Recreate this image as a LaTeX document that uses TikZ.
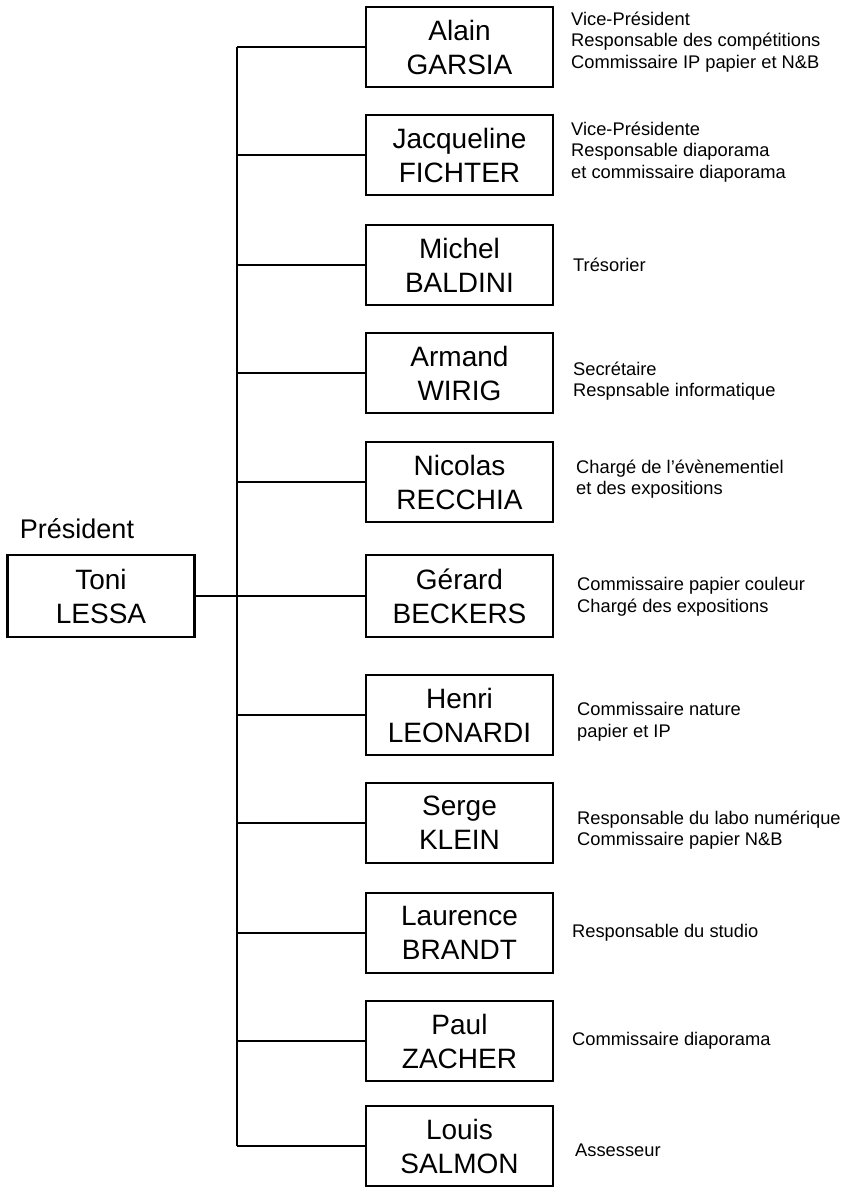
\documentclass[tikz,border=0pt]{standalone}
\usepackage{fontspec}
\setmainfont{Liberation Sans}
\begin{document}
\begin{tikzpicture}[x=1pt,y=-1pt,
  person/.style={draw, line width=2.2pt, minimum width=187pt, minimum height=80pt, inner sep=0pt, align=center, font=\fontsize{28}{34}\selectfont},
  role/.style={anchor=west, align=left, inner sep=0pt, font=\fontsize{18.3}{21.5}\selectfont},
  link/.style={line width=1.4pt}]
\useasboundingbox (0,0) rectangle (845,1187);

% president
\node[person, minimum height=82pt] (pres) at (101,596) {Toni\\LESSA};
\node[anchor=base, inner sep=0pt, font=\fontsize{27}{32}\selectfont] (preslabel) at (77,538) {Président};

% members
\node[person] (a) at (459.5,47) {Alain\\GARSIA};
\node[person] (b) at (459.5,155) {Jacqueline\\FICHTER};
\node[person] (c) at (459.5,265) {Michel\\BALDINI};
\node[person] (d) at (459.5,373) {Armand\\WIRIG};
\node[person] (e) at (459.5,482) {Nicolas\\RECCHIA};
\node[person, minimum height=82pt] (f) at (459.5,596) {Gérard\\BECKERS};
\node[person] (g) at (459.5,715) {Henri\\LEONARDI};
\node[person] (h) at (459.5,823) {Serge\\KLEIN};
\node[person] (i) at (459.5,933) {Laurence\\BRANDT};
\node[person] (j) at (459.5,1041) {Paul\\ZACHER};
\node[person] (k) at (459.5,1146) {Louis\\SALMON};

% roles
\node[role] (ra) at (571,42) {Vice-Président\\Responsable des compétitions\\Commissaire IP papier et N\&B};
\node[role] (rb) at (571,152) {Vice-Présidente\\Responsable diaporama\\et commissaire diaporama};
\node[role] (rc) at (573,265) {Trésorier};
\node[role] (rd) at (573,381) {Secrétaire\\Respnsable informatique};
\node[role] (re) at (576,479) {Chargé de l’évènementiel\\et des expositions};
\node[role] (rf) at (577,597) {Commissaire papier couleur\\Chargé des expositions};
\node[role] (rg) at (577,722) {Commissaire nature\\papier et IP};
\node[role] (rh) at (577,830) {Responsable du labo numérique\\Commissaire papier N\&B};
\node[role] (ri) at (572,933) {Responsable du studio};
\node[role] (rj) at (572,1041) {Commissaire diaporama};
\node[role] (rk) at (575,1150) {Assesseur};

% connectors
\coordinate (spinetop) at (237,47);
\coordinate (spinebot) at (237,1146);
\draw[link] (spinetop) -- (spinebot);
\draw[link] (pres.east) -- (f.west);
\foreach \n in {a,b,c,d,e,g,h,i,j,k}
  \draw[link] (spinetop |- \n.west) -- (\n.west);
\end{tikzpicture}
\end{document}
